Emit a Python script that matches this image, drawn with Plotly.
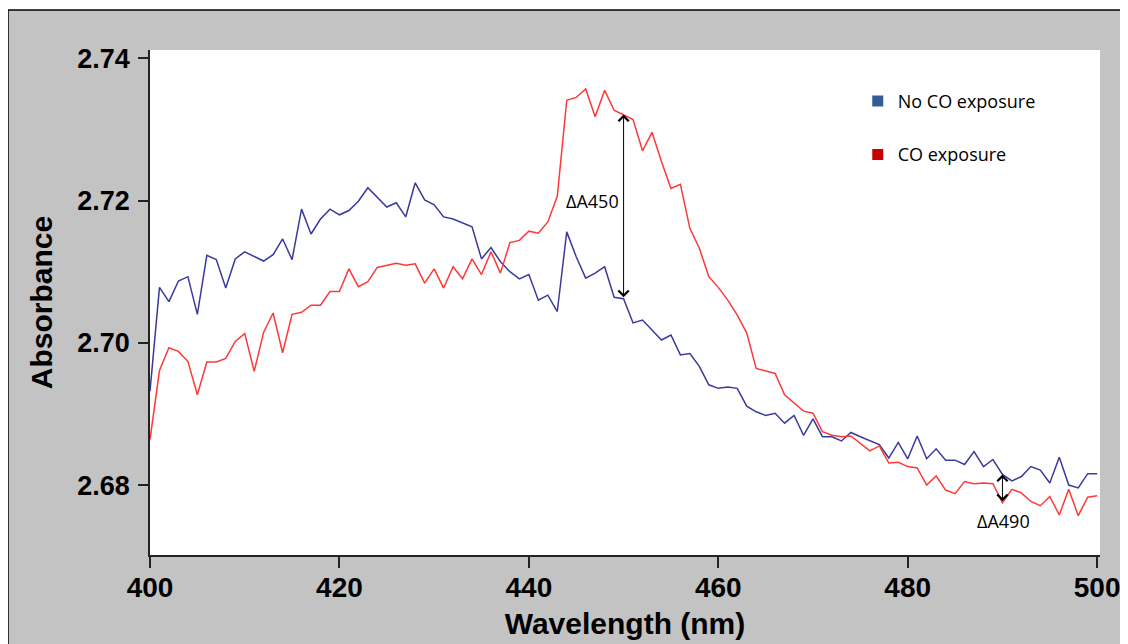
import plotly.graph_objects as go

wavelength = list(range(400, 501))

no_co = [
    2.6932, 2.7078, 2.7058, 2.7087, 2.7093, 2.7040, 2.7123, 2.7117, 2.7077, 2.7118,
    2.7128, 2.7122, 2.7115, 2.7124, 2.7146, 2.7117, 2.7188, 2.7153, 2.7174, 2.7188,
    2.7180, 2.7186, 2.7199, 2.7218, 2.7205, 2.7191, 2.7197, 2.7177, 2.7225, 2.7201,
    2.7194, 2.7177, 2.7174, 2.7168, 2.7163, 2.7118, 2.7134, 2.7114, 2.7100, 2.7090,
    2.7096, 2.7060, 2.7067, 2.7044, 2.7156, 2.7121, 2.7091, 2.7098, 2.7107, 2.7064,
    2.7062, 2.7028, 2.7032, 2.7018, 2.7004, 2.7011, 2.6983, 2.6985, 2.6967, 2.6941,
    2.6936, 2.6938, 2.6936, 2.6911, 2.6903, 2.6898, 2.6901, 2.6887, 2.6898, 2.6870,
    2.6893, 2.6868, 2.6868, 2.6862, 2.6874, 2.6868, 2.6862, 2.6857, 2.6838, 2.6860,
    2.6837, 2.6869, 2.6837, 2.6851, 2.6835, 2.6835, 2.6829, 2.6847, 2.6826, 2.6836,
    2.6815, 2.6806, 2.6812, 2.6826, 2.6821, 2.6803, 2.6839, 2.6800, 2.6796, 2.6816,
    2.6816,
]

co = [
    2.6864, 2.6961, 2.6993, 2.6988, 2.6974, 2.6927, 2.6973, 2.6973, 2.6978, 2.7002,
    2.7013, 2.6960, 2.7015, 2.7042, 2.6986, 2.7040, 2.7043, 2.7053, 2.7053, 2.7072,
    2.7072, 2.7104, 2.7079, 2.7086, 2.7106, 2.7109, 2.7112, 2.7109, 2.7111, 2.7084,
    2.7104, 2.7077, 2.7107, 2.7090, 2.7118, 2.7096, 2.7128, 2.7098, 2.7141, 2.7144,
    2.7157, 2.7154, 2.7170, 2.7206, 2.7341, 2.7345, 2.7357, 2.7318, 2.7355, 2.7327,
    2.7321, 2.7314, 2.7270, 2.7296, 2.7255, 2.7217, 2.7223, 2.7161, 2.7133, 2.7093,
    2.7078, 2.7060, 2.7039, 2.7014, 2.6964, 2.6960, 2.6957, 2.6927, 2.6916, 2.6904,
    2.6901, 2.6875, 2.6870, 2.6868, 2.6869, 2.6859, 2.6848, 2.6855, 2.6831, 2.6832,
    2.6826, 2.6824, 2.6800, 2.6813, 2.6793, 2.6788, 2.6805, 2.6802, 2.6803, 2.6802,
    2.6775, 2.6794, 2.6789, 2.6777, 2.6771, 2.6784, 2.6758, 2.6794, 2.6757, 2.6783,
    2.6785,
]

series_names = ["No CO exposure", "CO exposure"]
x_ticks = [400, 420, 440, 460, 480, 500]
y_ticks = [2.68, 2.70, 2.72, 2.74]
delta_wavelengths = [450, 490]
delta_labels = ["ΔA450", "ΔA490"]

LINE_BLUE = "#3A3A9E"
LINE_RED = "#FF3838"
LEG_BLUE = "#365C96"
LEG_RED = "#C80000"

# page body has an 8px margin: the figure starts at page (8, 8).
# target plot area in page coords: x 150-1100, y 50-555
OFF = 8
W, H = 1128 - OFF, 644 - OFF
L, T = 150 - OFF, 50 - OFF
R = OFF + W - 1100
B = OFF + H - 555
PW, PH = W - L - R, H - T - B

fig = go.Figure()
fig.add_trace(go.Scatter(x=wavelength, y=no_co, mode="lines",
                         line=dict(color=LINE_BLUE, width=1.5), showlegend=False))
fig.add_trace(go.Scatter(x=wavelength, y=co, mode="lines",
                         line=dict(color=LINE_RED, width=1.5), showlegend=False))
for name, col in zip(series_names, [LEG_BLUE, LEG_RED]):
    fig.add_trace(go.Scatter(x=[None], y=[None], mode="markers", name=name,
                             legendgroup=name,
                             marker=dict(symbol="square", size=11, color=col)))

annotations = []
offsets = {450: (446.7, 2.7200), 490: (490.1, 2.6749)}
for wl, lab in zip(delta_wavelengths, delta_labels):
    i = wavelength.index(wl)
    y_top = max(no_co[i], co[i])
    y_bot = min(no_co[i], co[i])
    annotations.append(dict(x=wl, y=y_top, ax=wl, ay=y_bot, xref="x", yref="y",
                            axref="x", ayref="y", text="", showarrow=True,
                            arrowside="end+start", arrowhead=4, startarrowhead=4,
                            arrowsize=2.0, startarrowsize=2.0, arrowwidth=1,
                            arrowcolor="black", standoff=0, startstandoff=0))
    tx, ty = offsets[wl]
    annotations.append(dict(x=tx, y=ty, xref="x", yref="y", text=lab, showarrow=False,
                            font=dict(family="Open Sans", size=18, color="black")))

# black border of the grey panel at page x=8, y=10
bx = (8 - 150) / PW
by = (555 - 10) / PH
shapes = [
    dict(type="rect", xref="paper", yref="paper", x0=-0.3, x1=bx,
         y0=-0.3, y1=1.3, fillcolor="white", line=dict(width=0), layer="below"),
    dict(type="rect", xref="paper", yref="paper", x0=-0.3, x1=1.2,
         y0=by, y1=1.3, fillcolor="white", line=dict(width=0), layer="below"),
    dict(type="line", xref="paper", yref="paper", x0=bx, x1=bx,
         y0=-0.3, y1=by, line=dict(color="black", width=1.5)),
    dict(type="line", xref="paper", yref="paper", x0=bx, x1=1.2,
         y0=by, y1=by, line=dict(color="black", width=1.5)),
]

fig.update_layout(
    width=W, height=H,
    margin=dict(l=L, r=R, t=T, b=B, autoexpand=False),
    paper_bgcolor="#C3C3C3",
    plot_bgcolor="white",
    annotations=annotations,
    shapes=shapes,
    legend=dict(x=0.745, y=0.935, xanchor="left", yanchor="top",
                bgcolor="rgba(0,0,0,0)", tracegroupgap=27,
                font=dict(family="Open Sans", size=18, color="black")),
    xaxis=dict(range=[400, 500.3], tickvals=x_ticks, ticks="outside", ticklen=11,
               tickwidth=1.5, tickcolor="#222", showline=True, linecolor="#222",
               linewidth=1.5, showgrid=False, zeroline=False, automargin=False,
               ticklabelstandoff=-4,
               tickfont=dict(family="Liberation Sans", size=28, color="black", weight="bold"),
               title=dict(text="Wavelength (nm)", standoff=11,
                          font=dict(family="Liberation Sans", size=30, color="black", weight="bold"))),
    yaxis=dict(range=[2.67017, 2.74117], tickvals=y_ticks, tickformat=".2f",
               ticks="outside", ticklen=10, tickwidth=1.5, tickcolor="#222",
               ticklabelstandoff=3, automargin=False,
               showline=True, linecolor="#222", linewidth=1.5, showgrid=False,
               zeroline=False,
               tickfont=dict(family="Liberation Sans", size=27, color="black", weight="bold"),
               title=dict(text="Absorbance", standoff=16,
                          font=dict(family="Liberation Sans", size=30, color="black", weight="bold"))),
)

fig.write_html("out.html")
